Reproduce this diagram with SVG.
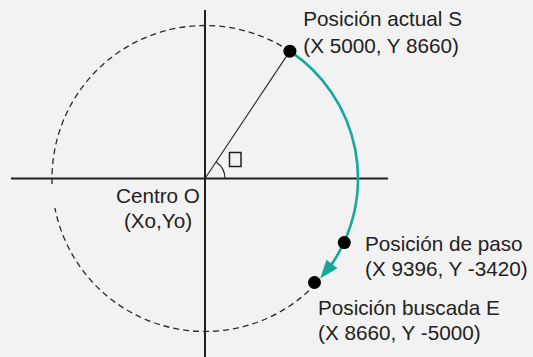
<svg xmlns="http://www.w3.org/2000/svg" width="533" height="357" viewBox="0 0 533 357">
<style>
.axis{stroke:#1e1e1e;stroke-width:2;fill:none}
.dash{stroke:#2a2a2a;stroke-width:1.3;fill:none;stroke-dasharray:6 4}
.teal{stroke:#14a99a;stroke-width:2.6;fill:none}
.thin{stroke:#2a2a2a;stroke-width:1.2;fill:none}
.dot{fill:#000}
.lbl{font-family:"Liberation Sans",Arial,sans-serif;font-size:20.7px;fill:#222}
</style>
<rect width="533" height="357" fill="#f2f2f2"/>
<g id="connectors">
<line class="axis" x1="205" y1="10" x2="205" y2="357"/>
<line class="axis" x1="11" y1="178.5" x2="388" y2="178.5"/>
<path class="dash" d="M316 283.8 A153 153 0 0 1 54.9 208"/>
<path class="dash" d="M52.1 184.1 A153 153 0 0 1 289.9 51.2"/>
<line class="thin" x1="205" y1="178.5" x2="289.9" y2="51.2"/>
<path class="thin" d="M225 178.5 A20 20 0 0 0 216.1 161.9"/>
<path class="teal" d="M289.9 51.2 A153 153 0 0 1 330.5 266"/>
<polygon fill="#14a99a" points="320.2,278.4 337.5,268.2 326.5,259.8"/>
</g>
<g id="angle">
<rect x="229.5" y="152.5" width="11.5" height="14" fill="none" stroke="#1e1e1e" stroke-width="1.5"/>
</g>
<g id="node-S">
<circle class="dot" cx="289.9" cy="51.2" r="6.5"/>
<text class="lbl" x="303.3" y="26">Posición actual S</text>
<text class="lbl" x="303.3" y="53">(X 5000, Y 8660)</text>
</g>
<g id="node-O">
<text class="lbl" x="158" y="203" text-anchor="middle">Centro O</text>
<text class="lbl" x="158" y="228" text-anchor="middle">(Xo,Yo)</text>
</g>
<g id="node-P">
<circle class="dot" cx="344.3" cy="242.6" r="6.5"/>
<text class="lbl" x="365" y="251">Posición de paso</text>
<text class="lbl" x="365" y="276">(X 9396, Y -3420)</text>
</g>
<g id="node-E">
<circle class="dot" cx="314.5" cy="282.5" r="6.5"/>
<text class="lbl" x="318" y="315">Posición buscada E</text>
<text class="lbl" x="318" y="340">(X 8660, Y -5000)</text>
</g>
</svg>
